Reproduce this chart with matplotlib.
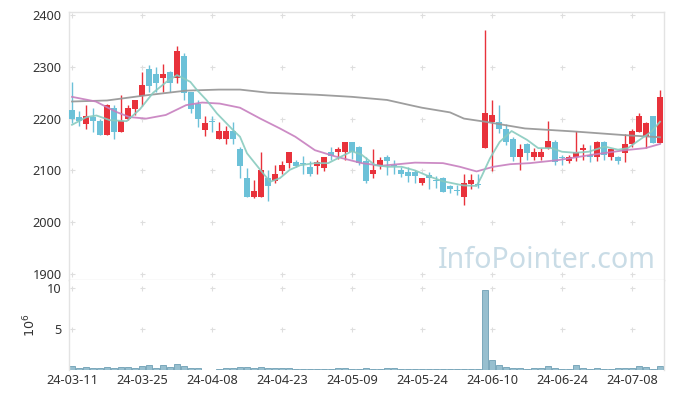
import matplotlib
matplotlib.use("Agg")
import matplotlib.pyplot as plt
import numpy as np

plt.rcParams['font.family'] = ['Noto Sans', 'DejaVu Sans']

# ---------------- data ----------------
opens = [2217, 2203, 2190, 2203, 2196, 2168, 2220, 2175, 2199, 2219,
         2244, 2296, 2286, 2279, 2290, 2279, 2321, 2251, 2229, 2178,
         2196, 2160, 2160, 2176, 2141, 2085, 2049, 2049, 2085, 2080,
         2098, 2115, 2116, 2115, 2107, 2109, 2105, 2135, 2135, 2135,
         2154, 2146, 2118, 2094, 2109, 2126, 2111, 2101, 2096, 2096,
         2075, 2092, 2082, 2085, 2070, 2063, 2049, 2074, 2074, 2144,
         2194, 2194, 2180, 2160, 2125, 2150, 2125, 2125, 2144, 2155,
         2125, 2119, 2125, 2140, 2130, 2125, 2155, 2125, 2125, 2134,
         2150, 2175, 2165, 2205, 2152]
highs = [2270, 2215, 2226, 2220, 2200, 2229, 2226, 2245, 2226, 2236,
         2289, 2304, 2300, 2305, 2291, 2340, 2326, 2251, 2236, 2205,
         2205, 2194, 2185, 2194, 2146, 2104, 2081, 2135, 2101, 2110,
         2118, 2135, 2121, 2127, 2118, 2121, 2126, 2146, 2146, 2154,
         2154, 2148, 2125, 2141, 2125, 2130, 2120, 2107, 2107, 2100,
         2085, 2096, 2090, 2087, 2071, 2072, 2094, 2093, 2094, 2371,
         2236, 2226, 2189, 2165, 2150, 2153, 2143, 2143, 2195, 2159,
         2130, 2130, 2176, 2150, 2149, 2156, 2156, 2141, 2128, 2170,
         2179, 2210, 2194, 2205, 2255]
lows = [2192, 2185, 2180, 2175, 2168, 2168, 2160, 2175, 2197, 2206,
        2224, 2252, 2252, 2252, 2252, 2269, 2235, 2210, 2184, 2166,
        2175, 2160, 2151, 2151, 2085, 2049, 2046, 2049, 2040, 2075,
        2094, 2104, 2106, 2094, 2090, 2094, 2099, 2120, 2122, 2120,
        2122, 2110, 2075, 2085, 2103, 2091, 2094, 2087, 2077, 2075,
        2071, 2065, 2066, 2058, 2056, 2052, 2033, 2064, 2066, 2144,
        2098, 2172, 2149, 2118, 2101, 2120, 2120, 2121, 2141, 2110,
        2110, 2114, 2118, 2120, 2116, 2118, 2120, 2120, 2112, 2117,
        2145, 2175, 2143, 2152, 2152]
closes = [2199, 2195, 2205, 2195, 2168, 2226, 2175, 2195, 2220, 2236,
          2265, 2263, 2269, 2286, 2269, 2330, 2250, 2219, 2199, 2192,
          2194, 2176, 2176, 2160, 2109, 2049, 2060, 2101, 2069, 2094,
          2110, 2135, 2109, 2113, 2093, 2117, 2125, 2128, 2141, 2154,
          2135, 2114, 2080, 2101, 2120, 2119, 2109, 2094, 2090, 2090,
          2085, 2085, 2080, 2059, 2064, 2061, 2075, 2081, 2072, 2210,
          2206, 2180, 2154, 2125, 2141, 2134, 2136, 2136, 2156, 2117,
          2123, 2126, 2136, 2144, 2125, 2155, 2130, 2141, 2119, 2150,
          2176, 2205, 2191, 2152, 2241]
volumes = [500000, 220000, 330000, 200000, 200000, 330000, 200000, 330000, 330000, 200000,
           450000, 570000, 300000, 570000, 330000, 700000, 450000, 200000, 200000, 50000,
           50000, 80000, 250000, 250000, 330000, 330000, 200000, 330000, 200000, 200000,
           200000, 250000, 100000, 80000, 80000, 80000, 80000, 100000, 200000, 200000,
           100000, 100000, 200000, 100000, 100000, 200000, 200000, 80000, 80000, 150000,
           80000, 150000, 100000, 150000, 80000, 150000, 150000, 120000, 150000, 9800000,
           1200000, 570000, 370000, 250000, 250000, 150000, 250000, 250000, 500000, 200000,
           100000, 100000, 570000, 250000, 100000, 200000, 100000, 100000, 250000, 300000,
           250000, 450000, 350000, 100000, 450000]

# moving-average lines: (candle index, value)
ma_short_x = [0, 2.1, 3.5, 5.4, 7.8, 9.7, 11.6, 13.5, 15, 16.9, 17.8, 19.2, 20.7, 23, 24,
              25, 26.9, 28.3, 29.7, 31.1, 32.6, 34.7, 36.6, 38.5, 40, 41.4, 43.3, 45.2,
              47.1, 49, 51.1, 53, 55.9, 57.8, 58.5, 59.7, 61.1, 62.8, 65, 66.6, 68.5, 70,
              71.9, 73.8, 76.1, 78, 79.4, 81.4, 82.8, 84]
ma_short_y = [2188, 2203, 2206, 2197, 2195, 2218, 2250, 2271, 2284, 2271, 2256, 2236, 2210, 2178, 2165,
              2133, 2101, 2078, 2085, 2101, 2110, 2114, 2114, 2127, 2137, 2130, 2110, 2107,
              2107, 2100, 2088, 2079, 2071, 2070, 2088, 2123, 2155, 2176, 2159, 2143, 2143, 2136,
              2134, 2136, 2146, 2140, 2143, 2162, 2175, 2194]
ma_mid_x = [0, 3.4, 6.3, 8.2, 10.6, 13.4, 16.3, 18.6, 21.1, 24, 26.9, 29.7, 31.9, 34.7,
            37.6, 41.4, 44.2, 49, 53, 55.4, 57.8, 60.2, 62.6, 65.4, 69.5, 74.2, 79, 81.9, 84]
ma_mid_y = [2242, 2233, 2213, 2203, 2200, 2207, 2226, 2231, 2229, 2221, 2200, 2181, 2165, 2139,
            2127, 2114, 2109, 2115, 2114, 2107, 2098, 2107, 2112, 2114, 2120, 2130, 2139, 2143, 2151]
ma_long_x = [0, 5, 10.6, 16.3, 21, 24, 28, 35, 40, 45, 48.3, 50, 54, 56, 59, 64.7, 71.9, 79, 84]
ma_long_y = [2233, 2235, 2245, 2254, 2256, 2256, 2250, 2246, 2242, 2236, 2226, 2221, 2212, 2200,
             2194, 2181, 2175, 2168, 2164]

tick_pos = [0, 10, 20, 30, 40, 50, 60, 70, 80]
tick_labels = ["24-03-11", "24-03-25", "24-04-08", "24-04-23", "24-05-09",
               "24-05-24", "24-06-10", "24-06-24", "24-07-08"]
price_ticks = [1900, 2000, 2100, 2200, 2300, 2400]
vol_ticks = [5, 10]

# ---------------- style ----------------
UP = '#e8323b'
DOWN = '#6cc1d8'
SPINE = '#e3e3e3'
TXT = '#333333'
GRIDC = '#dedede'

W, H = 673, 398
fig = plt.figure(figsize=(W / 100, H / 100), dpi=100)
fig.patch.set_facecolor('white')

left = 68.5 / W
width = 595 / W
ax = fig.add_axes([left, (H - 280) / H, width, 268 / H])
axv = fig.add_axes([left, (H - 370) / H, width, 90 / H], sharex=ax)

n = len(closes)
idx = np.arange(n)
o = np.array(opens, float)
c = np.array(closes, float)
hi = np.array(highs, float)
lo = np.array(lows, float)
up = c >= o
cols = [UP if u else DOWN for u in up]

# watermark
ax.text(0.62, 0.045, "InfoPointer.com", transform=ax.transAxes, fontsize=20.6,
        color='#c9dce6', ha='left', va='baseline', zorder=0.5)

# grid crosses
for xp in tick_pos:
    for yp in price_ticks:
        ax.plot(xp, yp, marker='+', ms=3.6, mew=0.8, color=GRIDC, zorder=1, clip_on=False)
    for yp in vol_ticks:
        axv.plot(xp, yp, marker='+', ms=3.6, mew=0.8, color=GRIDC, zorder=1, clip_on=False)

# candles
ax.vlines(idx, lo, hi, colors=cols, linewidth=1.0, zorder=2)
body_bottom = np.minimum(o, c)
body_h = np.maximum(np.abs(c - o), 1.5)
ax.bar(idx, body_h, bottom=body_bottom, width=0.72, color=cols, linewidth=0, zorder=3)

# moving averages
ax.plot(ma_long_x, ma_long_y, color='#999999', lw=1.3, zorder=4, alpha=0.95)
ax.plot(ma_mid_x, ma_mid_y, color='#c77fbf', lw=1.3, zorder=4, alpha=0.9)
ax.plot(ma_short_x, ma_short_y, color='#88cbbf', lw=1.3, zorder=4, alpha=0.9)

ax.set_xlim(-0.5, n - 0.5)
ax.set_ylim(1888.4, 2405.8)
ax.set_yticks(price_ticks)
ax.tick_params(axis='y', length=0, pad=5, labelsize=9.2, labelcolor=TXT)
ax.tick_params(axis='x', length=0, labelbottom=False)
for s in ax.spines.values():
    s.set_color(SPINE)
    s.set_linewidth(1)

# volume
vol_m = np.array(volumes, float) / 1e6
axv.bar(idx, vol_m, width=0.88, color='#97bfcf', edgecolor='#6e9fb4', linewidth=0.6, zorder=2)
axv.set_ylim(0, 10.97)
axv.set_yticks(vol_ticks)
axv.set_yticklabels([str(v) for v in vol_ticks])
axv.set_xticks(tick_pos)
axv.set_xticklabels(tick_labels)
axv.tick_params(axis='y', length=0, pad=5, labelsize=9.2, labelcolor=TXT)
axv.tick_params(axis='x', length=0, pad=3, labelsize=9.2, labelcolor=TXT)
axv.set_ylabel(r'$10^6$', fontsize=9.2, color=TXT, rotation=90)
axv.yaxis.set_label_coords(-0.05, 0.5)
for k, s in axv.spines.items():
    s.set_color(SPINE)
    s.set_linewidth(1)
axv.spines['top'].set_visible(False)
axv.spines['bottom'].set_visible(False)

fig.savefig('out.png', dpi=100, facecolor='white')
